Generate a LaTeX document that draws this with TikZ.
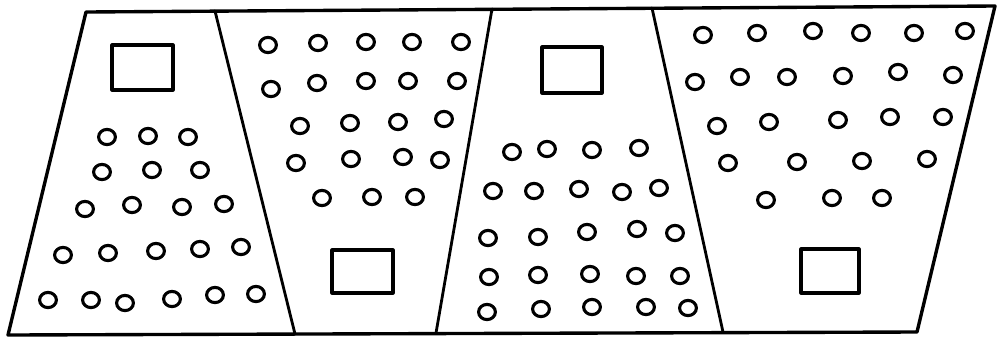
\documentclass[tikz,border=0pt]{standalone}
\tikzset{
	sketch/.style={
			x=0.025cm, y=-0.025cm,
			line join=round, line cap=round,
		},
	frame/.style={draw, line width=2.4pt},
	wall/.style={draw, line width=2pt},
	door/.style={draw, line width=2.2pt},
	hole/.style={draw, line width=2.2pt},
}

\begin{document}
\begin{tikzpicture}[sketch]
	\useasboundingbox (0,0) rectangle (999,337);
	% outer corners
	\coordinate (tl) at (86,12);
	\coordinate (tr) at (995,6);
	\coordinate (br) at (917,332);
	\coordinate (bl) at (8,335);
	% ends of the three dividers
	\coordinate (d1t) at (215,11);
	\coordinate (d1b) at (295,334);
	\coordinate (d2t) at (492,9);
	\coordinate (d2b) at (436,333);
	\coordinate (d3t) at (652,8);
	\coordinate (d3b) at (723,332);

	\draw[frame] (tl) -- (tr) -- (br) -- (bl) -- cycle;
	\draw[wall] (d1t) -- (d1b);
	\draw[wall] (d2t) -- (d2b);
	\draw[wall] (d3t) -- (d3b);

	% squares
	\draw[door] (112,45) rectangle (173,90);
	\draw[door] (332,250) rectangle (393,293);
	\draw[door] (542,47) rectangle (602,93);
	\draw[door] (801,249) rectangle (859,293);

	% holes, one panel after the other
	\foreach \cx/\cy in {107/137, 148/136, 188/137,
			102/172, 152/170, 200/170,
			85/209, 132/205, 182/207, 224/204,
			63/255, 108/253, 156/251, 200/249, 241/247,
			48/300, 91/300, 125/303, 172/299, 215/295, 256/294}
		\draw[hole] (\cx,\cy) ellipse (0.21cm and 0.19cm);
	\foreach \cx/\cy in {268/45, 318/43, 366/42, 412/42, 461/42,
			271/89, 317/83, 366/81, 408/81, 457/81,
			300/126, 350/123, 398/122, 444/119,
			296/163, 351/159, 403/157, 440/160,
			322/198, 372/197, 415/197}
		\draw[hole] (\cx,\cy) ellipse (0.21cm and 0.19cm);
	\foreach \cx/\cy in {512/152, 547/149, 592/150, 639/148,
			493/191, 534/191, 579/189, 622/192, 659/188,
			488/238, 538/237, 587/232, 637/229, 675/233,
			489/277, 538/275, 590/274, 636/276, 680/276,
			487/312, 541/309, 592/307, 646/307, 688/308}
		\draw[hole] (\cx,\cy) ellipse (0.21cm and 0.19cm);
	\foreach \cx/\cy in {703/35, 757/33, 813/31, 861/33, 914/33, 965/31,
			695/82, 740/77, 787/77, 843/76, 898/72, 953/75,
			717/126, 769/122, 838/120, 890/117, 943/117,
			728/163, 797/162, 862/161, 927/159,
			766/200, 832/198, 882/198}
		\draw[hole] (\cx,\cy) ellipse (0.21cm and 0.19cm);
\end{tikzpicture}
\end{document}
